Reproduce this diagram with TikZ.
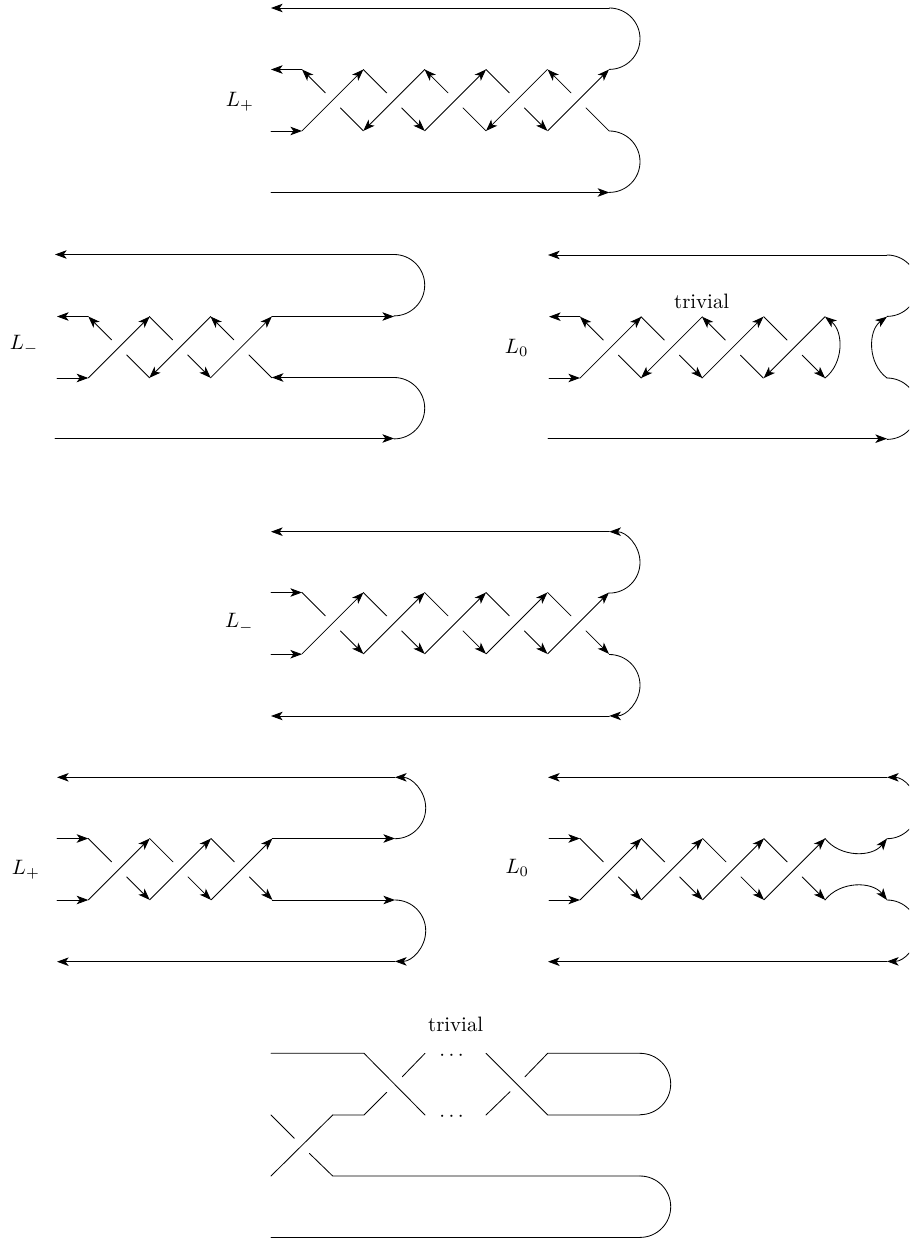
\documentclass[tikz,border=0pt]{standalone}
\usepackage{amsmath,amssymb}
\usepackage{tikz}
\usetikzlibrary{arrows.meta}
\tikzset{
    >={Stealth[length=5.6pt,width=4.1pt,inset=1.5pt]},
    strand/.style={line width=0.4pt, line cap=round},
    label/.style={inner sep=0pt}
}
% one crossing: left x, upper y, tips of over strand, upper piece, lower piece
\newcommand{\crossing}[5]{
  \draw[strand,#3] (#1,#2+61.4) -- (#1+61.4,#2);
  \draw[strand,#4] (#1,#2) -- (#1+23.4,#2+23.4);
  \draw[strand,#5] (#1+38.4,#2+38.4) -- (#1+61.4,#2+61.4);
}
% half circle going down on the right side
\newcommand{\capdown}[3]{
  \draw[strand,#3] (#1,#2) arc[start angle=-90,end angle=90,radius=30.7];
}

\begin{document}
\begin{tikzpicture}[x=0.48pt,y=-0.48pt]
\useasboundingbox (0,0) rectangle (909,1239);
\clip (0,0) rectangle (909,1239);

% top: L_+ with five crossings
\node[label] (lplustop) at (240,101.7) {$L_+$};
\draw[strand,->] (609.3,8) -- (271,8);
\draw[strand,->] (302,69.5) -- (271,69.5);
\draw[strand,->] (271,131) -- (302,131);
\draw[strand,->] (271,192.5) -- (609.3,192.5);
\crossing{302}{69.5}{->}{<-}{-}
\crossing{363.3}{69.5}{<-}{-}{->}
\crossing{424.6}{69.5}{->}{<-}{-}
\crossing{486}{69.5}{<-}{-}{->}
\crossing{547.6}{69.5}{->}{<-}{-}
\capdown{609.3}{8}{-}
\capdown{609.3}{131}{-}

% second row left: L_- with three crossings
\node[label] (lminusmid) at (24,345) {$L_-$};
\draw[strand,->] (394,254.5) -- (55,254.5);
\draw[strand,->] (88.3,316.5) -- (57,316.5);
\draw[strand,->] (57,378) -- (88.3,378);
\draw[strand,->] (55,438.5) -- (394,438.5);
\crossing{88.3}{316.5}{->}{<-}{-}
\crossing{149.3}{316.5}{<-}{-}{->}
\crossing{210.5}{316.5}{->}{<-}{-}
\draw[strand,->] (271.8,316.5) -- (394,316.5);
\draw[strand,->] (394,377.5) -- (271.8,377.5);
\capdown{394}{254.5}{-}
\capdown{394}{377.5}{-}

% second row right: L_0, resolved last crossing
\node[label] (lzeromid) at (516.7,348.3) {$L_0$};
\node[label] (trivialmid) at (701.7,301.7) {trivial};
\draw[strand,->] (887,255) -- (548,255);
\draw[strand,->] (580,316.7) -- (549,316.7);
\draw[strand,->] (549,378) -- (580,378);
\draw[strand,->] (548,438.7) -- (887,438.7);
\crossing{580}{316.7}{->}{<-}{-}
\crossing{641}{316.7}{<-}{-}{->}
\crossing{702}{316.7}{->}{<-}{-}
\crossing{763.7}{316.7}{<-}{-}{->}
\draw[strand,->] (825,378) to[bend right=52] (825,316.7);
\draw[strand,->] (887,378) to[bend left=54] (887,316.7);
\capdown{887}{255}{-}
\capdown{887}{378}{-}

% middle: L_- with five crossings
\node[label] (lminuscentre) at (239.3,623.3) {$L_-$};
\draw[strand,->] (609.3,531.7) -- (271,531.7);
\draw[strand,->] (271,592.5) -- (302,592.5);
\draw[strand,->] (271,654.2) -- (302,654.2);
\draw[strand,->] (609.3,716) -- (271,716);
\foreach \xpos in {302,363.3,424.6,486,547.6}{
  \crossing{\xpos}{592.5}{->}{-}{->}
}
\capdown{609.3}{531.7}{<-}
\capdown{609.3}{654.5}{->}

% fourth row left: L_+ with three crossings
\node[label] (lplusmid) at (26,870) {$L_+$};
\draw[strand,->] (395,777.3) -- (57,777.3);
\draw[strand,->] (57,838.5) -- (88.3,838.5);
\draw[strand,->] (57,900) -- (88.3,900);
\draw[strand,->] (395,961.7) -- (57,961.7);
\foreach \xpos in {88.3,149.6,211}{
  \crossing{\xpos}{838.5}{->}{-}{->}
}
\draw[strand,->] (272.4,838.5) -- (395,838.5);
\draw[strand,->] (272.4,900) -- (395,900);
\capdown{395}{777.3}{<-}
\capdown{395}{900}{->}

% fourth row right: L_0, resolved the other way
\node[label] (lzerolow) at (517.3,868.3) {$L_0$};
\draw[strand,->] (887,777.3) -- (548,777.3);
\draw[strand,->] (549,838.5) -- (580,838.5);
\draw[strand,->] (549,900) -- (580,900);
\draw[strand,->] (887,961.7) -- (548,961.7);
\foreach \xpos in {580,641.3,702.6,763.8}{
  \crossing{\xpos}{838.5}{->}{-}{->}
}
\draw[strand,->] (825,838.5) to[bend right=52] (887,838.5);
\draw[strand,->] (825,900) to[bend left=52] (887,900);
\capdown{887}{777.3}{<-}
\capdown{887}{900}{->}

% bottom: unoriented closure
\node[label] (trivialbottom) at (455.7,1024) {trivial};
\node[label] (dotstop) at (453.3,1055.5) {$\cdots$};
\node[label] (dotsbottom) at (453.3,1117.2) {$\cdots$};
\draw[strand] (271,1053.3) -- (364,1053.3) -- (425,1115);
\draw[strand] (332.7,1115) -- (364,1115) -- (386.7,1092.3);
\draw[strand] (402.3,1076.7) -- (425,1053.3);
\draw[strand] (486,1053.3) -- (547.7,1115) -- (640,1115);
\draw[strand] (486,1115) -- (510,1091.7);
\draw[strand] (525,1076.7) -- (547.7,1053.3) -- (640,1053.3);
\draw[strand] (271,1176) -- (332.7,1115);
\draw[strand] (271,1115) -- (294.3,1138.3);
\draw[strand] (309.3,1153.3) -- (332.7,1176) -- (640,1176);
\draw[strand] (640,1237.7) -- (271,1237.7);
\capdown{640}{1053.3}{-}
\capdown{640}{1176}{-}
\end{tikzpicture}
\end{document}
